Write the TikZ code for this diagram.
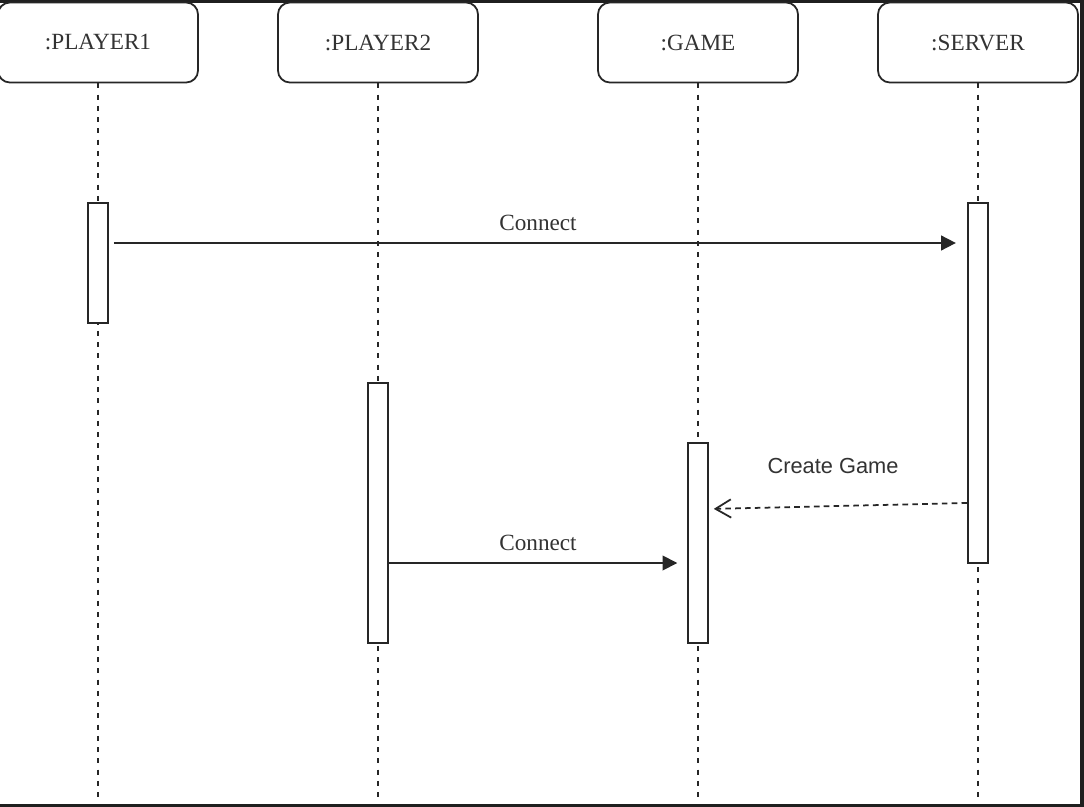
\documentclass[tikz,border=0pt]{standalone}
\usepackage{fontspec}
\setmainfont{Liberation Serif}
\setsansfont{Liberation Sans}
\usetikzlibrary{arrows.meta}

\begin{document}
\begin{tikzpicture}[x=0.025cm, y=-0.025cm, line width=1.25pt, draw=black!85, text=black!80,
  head/.style={draw, fill=white, rounded corners=8.5pt, minimum width=5cm, minimum height=2cm, font=\fontsize{16.5}{20}\selectfont},
  life/.style={dash pattern=on 3.5pt off 4.5pt},
  bar/.style={draw, fill=white, inner sep=0pt, minimum width=0.5cm},
  call/.style={-{Triangle[length=10.5pt, width=10.5pt]}},
  reply/.style={dash pattern=on 4pt off 3pt, -{Straight Barb[length=11pt, width=13pt]}},
  msglabel/.style={font=\fontsize{16.5}{20}\selectfont}]
\useasboundingbox (0,0) rectangle (1084,807);
\fill[black!88] (0,0) rectangle (1084,807);
\fill[white] (0,3) rectangle (1080,804);
\node[head] (p1) at (98,42.5) {:PLAYER1};
\node[head] (p2) at (378,42.5) {:PLAYER2};
\node[head] (game) at (698,42.5) {:GAME};
\node[head] (srv) at (978,42.5) {:SERVER};
\coordinate (p1end) at (98,800);
\coordinate (p2end) at (378,800);
\coordinate (gameend) at (698,800);
\coordinate (srvend) at (978,800);
\draw[life] (p1) -- (p1end);
\draw[life] (p2) -- (p2end);
\draw[life] (game) -- (gameend);
\draw[life] (srv) -- (srvend);
\node[bar, minimum height=3cm] (p1bar) at (98,263) {};
\node[bar, minimum height=9cm] (srvbar) at (978,383) {};
\node[bar, minimum height=6.5cm] (p2bar) at (378,513) {};
\node[bar, minimum height=5cm] (gamebar) at (698,543) {};
\coordinate (m1) at (0,243);
\coordinate (m2a) at (0,503);
\coordinate (m2b) at (0,509);
\coordinate (m3) at (0,563);
\draw[call, shorten <=3.5pt, shorten >=8pt] (p1bar.east |- m1) -- (srvbar.west |- m1) node[msglabel, midway, above=5pt] {Connect};
\draw[reply, shorten >=3.5pt] (srvbar.west |- m2a) -- (gamebar.east |- m2b);
\node[font=\sffamily\fontsize{15.5}{18}\selectfont] (cglabel) at (833,466) {Create Game};
\draw[call, shorten >=7pt] (p2bar.east |- m3) -- (gamebar.west |- m3) node[msglabel, midway, above=5pt] {Connect};
\end{tikzpicture}
\end{document}
